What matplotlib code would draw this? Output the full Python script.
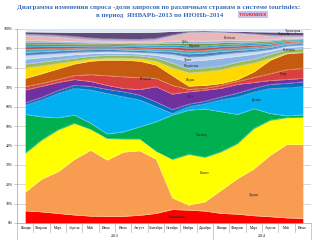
import numpy as np
import matplotlib.pyplot as plt

plt.rcParams['font.family'] = ['Liberation Serif', 'DejaVu Serif']

# подписи по оси X
months = ["Январь", "Февраль", "Март", "Апрель", "Май", "Июнь", "Июль", "Август",
          "Сентябрь", "Октябрь", "Ноябрь", "Декабрь",
          "Январь", "Февраль", "Март", "Апрель", "Май", "Июнь"]
years = ["2013", "2014"]

# верхняя граница каждой полосы (накопленная доля, %), снизу вверх
dominicana = [6.3, 5.8, 5.0, 4.2, 3.6, 3.5, 3.5, 4.0, 5.0, 7.0, 6.7, 6.2, 5.0, 4.6, 3.8, 3.3, 2.7, 2.4]
turkey = [16, 22.7, 26.5, 32.8, 37.6, 32.5, 36.6, 37.3, 33, 13, 9.3, 11, 17, 23, 28, 35, 40.5, 40.5]
egypt = [36, 42.8, 48, 51.4, 48.3, 43.6, 43.3, 43.3, 37, 32.8, 35.4, 33.9, 36.8, 41, 48.8, 53, 54.3, 54.5]
thailand = [56, 54.8, 54.3, 55.7, 51.5, 46, 47, 49.6, 52.2, 55.7, 58.2, 58.8, 57.4, 56, 59, 56.5, 55.3, 55.8]
greece = [60.8, 63.4, 66.8, 69.4, 68.6, 66.8, 65.1, 63.5, 60, 56.5, 60, 61.5, 63.5, 65, 67.5, 69.4, 69.7, 70.3]
cyprus = [62, 64.8, 68.3, 71, 70.5, 69, 67.7, 66, 62.5, 58.5, 61.3, 62.8, 65, 67, 69.5, 71.5, 72, 72.8]
uae = [68.6, 70.5, 72.5, 74, 73, 71, 69.4, 68.8, 70.3, 66.5, 67.7, 68.5, 69.5, 71.5, 72.5, 73.5, 74, 74.6]
spain = [70.3, 72, 74, 76, 76.5, 76, 75.4, 75, 74.6, 71, 68.9, 69.5, 71, 73, 75, 77, 79, 79.7]
italy = [74.6, 77, 79.5, 82, 83.5, 84, 84, 83.5, 81.5, 76, 70.6, 71, 72, 74, 78, 84, 87.3, 87.9]
india = [80, 81, 82.3, 83.5, 84.5, 85, 85, 84.8, 83.4, 80, 77.5, 78, 79, 81, 82.5, 85, 87.6, 87.9]
bulgaria = [82, 83, 84, 85, 86, 86.5, 86.5, 86.2, 85.2, 82.5, 79.5, 80, 81, 83, 84.5, 87, 89.3, 90]
indonesia = [84.5, 85.3, 86, 86.8, 87.3, 87.6, 87.5, 87.2, 86.5, 85, 83.5, 84, 85, 86, 87, 88.5, 90.5, 91]
tunisia = [86.5, 87, 87.5, 88, 88.3, 88.5, 88.3, 88, 87.6, 87, 85.5, 86, 87, 87.8, 88.5, 89.5, 91.3, 91.8]
czech = [88, 88.4, 88.8, 89.2, 89.4, 89.5, 89.3, 89, 88.6, 88.3, 87.2, 87.7, 88.5, 89, 89.6, 90.5, 92.2, 92.6]
maldives = [89.5, 89.7, 89.9, 90.1, 90.3, 90.4, 90.2, 89.9, 89.6, 89.5, 88.7, 89, 89.8, 90.2, 90.7, 91.4, 93, 93.4]
israel = [90.9, 91, 91.1, 91.2, 91.3, 91.3, 91.1, 90.9, 90.7, 90.7, 90.2, 90.3, 91, 91.3, 91.7, 92.2, 93.6, 94]
france = [92, 92.1, 92.1, 92.1, 92.1, 92.1, 91.9, 91.7, 91.6, 91.8, 91.3, 91.3, 92, 92.3, 92.6, 93, 94.3, 94.6]
cuba = [93, 93, 93, 92.9, 92.8, 92.8, 92.6, 92.4, 92.4, 92.8, 92.5, 92.5, 93, 93.2, 93.4, 93.8, 94.8, 95]
china = [94, 94, 93.8, 93.6, 93.4, 93.3, 93.1, 93, 93.1, 93.8, 93.8, 93.8, 94, 94.2, 94.3, 94.5, 95.3, 95.4]
vietnam = [96.5, 96.3, 95.8, 95, 94.3, 94, 93.8, 93.7, 94.2, 96.3, 98, 98.3, 98, 97.6, 97, 96.2, 96, 96]
croatia = [97.4, 97.2, 96.8, 96.2, 95.4, 95, 94.8, 94.7, 95.2, 97, 98.5, 98.7, 98.4, 98, 97.5, 97, 96.8, 96.8]
montenegro = [98.6, 98.5, 98.4, 98.3, 98.3, 98.3, 98.3, 98.3, 98.4, 98.8, 99.1, 99.2, 99, 98.8, 98.6, 98.5, 98.4, 98.2]
other = [100] * 18

layers = [
    ("Доминикана", dominicana, "#FF0000"),
    ("Турция", turkey, "#F89C52"),
    ("Египет", egypt, "#FFFF00"),
    ("Таиланд", thailand, "#00B050"),
    ("Греция", greece, "#00B0F0"),
    ("Кипр", cyprus, "#0070C0"),
    ("ОАЭ", uae, "#7030A0"),
    ("Испания", spain, "#DA3F3F"),
    ("Италия", italy, "#C55A11"),
    ("Индия", india, "#FFD800"),
    ("Болгария", bulgaria, "#9BBB59"),
    ("Индонезия", indonesia, "#8DB4E2"),
    ("Тунис", tunisia, "#C6D9F1"),
    ("Чехия", czech, "#4F81BD"),
    ("Мальдивы", maldives, "#4BACC6"),
    ("Израиль", israel, "#C0504D"),
    ("Франция", france, "#17A2D8"),
    ("Куба", cuba, "#77933C"),
    ("Китай", china, "#95B3D7"),
    ("Вьетнам", vietnam, "#E6B9B8"),
    ("Хорватия", croatia, "#B3A2C7"),
    ("Черногория", montenegro, "#604A7B"),
    ("Прочие", other, "#DCE6F2"),
]

# подписи серий: (текст, индекс месяца, %)
labels = [("Доминикана", 9.3, 3.0), ("Турция", 14.0, 14.5), ("Египет", 11.0, 26.0),
          ("Таиланд", 10.8, 45.5), ("ОАЭ", 10.1, 65.0), ("Греция", 14.2, 63.4),
          ("Испания", 7.4, 74.2), ("Кипр", 15.8, 76.8), ("Индия", 10.1, 73.7),
          ("Болгария", 16.2, 89.0), ("Индонезия", 10.2, 81.0), ("Тунис", 10.0, 84.2),
          ("Израиль", 10.4, 91.0), ("Куба", 9.8, 93.3), ("Вьетнам", 12.5, 95.5),
          ("Хорватия", 15.9, 97.2), ("Черногория", 16.4, 99.0)]

fig = plt.figure(figsize=(3.2, 2.4), dpi=100)
ax = fig.add_axes([17 / 320, 17 / 240, 294 / 320, 194 / 240])

x = np.arange(len(months))
prev = np.zeros(len(months))
for name, top, color in layers:
    top = np.array(top, dtype=float)
    ax.fill_between(x, prev, top, color=color, lw=0)
    ax.plot(x, top, color="white", lw=0.3, alpha=0.5)
    prev = top

for text, xi, yi in labels:
    ax.text(xi, yi, text, fontsize=2.3, ha="center", va="center", color="#222222")

ax.set_xlim(-0.5, len(months) - 0.5)
ax.set_ylim(0, 100)
ax.set_yticks(np.arange(0, 101, 10))
ax.set_yticklabels([f"{v}%" for v in range(0, 101, 10)], fontsize=2.8)
ax.yaxis.grid(True, color="#C8C8C8", lw=0.5)
ax.set_axisbelow(True)
ax.tick_params(axis="y", length=2, width=0.4, color="#A0A0A0", pad=1)
for s in ["top", "right"]:
    ax.spines[s].set_visible(False)
for s in ["left", "bottom"]:
    ax.spines[s].set_color("#A0A0A0")
    ax.spines[s].set_linewidth(0.5)

# категории по месяцам и годам
ax.set_xticks(x)
ax.set_xticklabels(months, fontsize=2.6)
ax.tick_params(axis="x", length=0, pad=2)
tr = ax.get_xaxis_transform()
for b in np.arange(-0.5, len(months), 1.0):
    low = -0.09 if b in (-0.5, 11.5, 17.5) else -0.046
    ax.plot([b, b], [0, low], color="#A0A0A0", lw=0.4, transform=tr, clip_on=False)
ax.text(5.5, -0.068, years[0], fontsize=2.8, ha="center", va="center", transform=tr)
ax.text(14.5, -0.068, years[1], fontsize=2.8, ha="center", va="center", transform=tr)

# заголовок
fig.text(0.497, 0.968, "Диаграмма изменения спроса -доли запросов по различным странам в системе tourindex:",
         fontsize=5.0, fontweight="bold", color="#3A6BB5", ha="center", va="center")
fig.text(0.5, 0.936, "в период  ЯНВАРЬ-2013 по ИЮНЬ-2014",
         fontsize=5.0, fontweight="bold", color="#3A6BB5", ha="center", va="center")
fig.text(0.79, 0.939, "TOURINDEX", fontsize=3.0, fontweight="bold", color="#E0303A",
         ha="center", va="center", family="DejaVu Sans",
         bbox=dict(boxstyle="square,pad=0.35", fc="#C9C3EC", ec="none"))

fig.savefig("out.png", dpi=100)
